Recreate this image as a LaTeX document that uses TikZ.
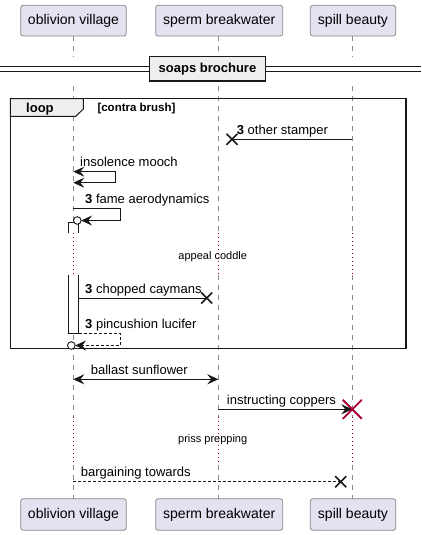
\documentclass[tikz,border=0pt]{standalone}
\usepackage{fontspec}
\setmainfont{Liberation Sans}
\usetikzlibrary{arrows.meta,calc}
\definecolor{partfill}{HTML}{E2E2F0}
\definecolor{partdraw}{HTML}{888888}
\definecolor{lifegray}{HTML}{8A8A8A}
\definecolor{crim}{HTML}{A80036}
\definecolor{tabfill}{HTML}{EEEEEE}
\definecolor{ink}{HTML}{181818}
\newcommand\fsP{\fontsize{14}{16}\selectfont}
\newcommand\fsM{\fontsize{13}{15}\selectfont}
\newcommand\fsS{\fontsize{11}{13}\selectfont}
\tikzset{
  partbox/.style={draw=partdraw, fill=partfill, rounded corners=2.5pt, line width=0.8pt, inner sep=0pt, font=\fsP, text=black},
  lifedash/.style={draw=lifegray, line width=0.8pt, dash pattern=on 5pt off 5pt},
  lifedot/.style={draw=crim, line width=1pt, dash pattern=on 1pt off 3pt},
  msg/.style={draw=ink, line width=0.9pt},
  msgdash/.style={draw=ink, line width=0.9pt, dash pattern=on 3pt off 2pt},
  msgtip/.tip={Stealth[length=11pt,width=10pt,inset=4pt]},
  lbl/.style={inner sep=0pt, anchor=base west, font=\fsM, text=black},
  delaylbl/.style={inner sep=0pt, font=\fsS, text=black},
  actbar/.style={draw=ink, fill=white, line width=0.9pt},
  xmark/.style={draw=ink, line width=1.6pt},
}
\begin{document}
\begin{tikzpicture}[x=1pt,y=-1pt]
\useasboundingbox (0,0) rectangle (421,535);
\fill[white] (0,0) rectangle (421,535);

% participants
\node[partbox, minimum width=105.6pt, minimum height=30.7pt] (pA) at (73.5,20.7) {oblivion village};
\node[partbox, minimum width=127pt, minimum height=30.7pt] (pB) at (219.2,20.7) {sperm breakwater};
\node[partbox, minimum width=85.4pt, minimum height=30.7pt] (pC) at (353,20.7) {spill beauty};
\node[partbox, minimum width=105.6pt, minimum height=31.6pt] (qA) at (73.5,514.5) {oblivion village};
\node[partbox, minimum width=127pt, minimum height=31.6pt] (qB) at (219.2,514.5) {sperm breakwater};
\node[partbox, minimum width=85.4pt, minimum height=31.6pt] (qC) at (353,514.5) {spill beauty};

% lifelines
\foreach \lx in {73.3,218.3,352.3}{
  \draw[lifedash] (\lx,36.2) -- (\lx,233.3);
  \draw[lifedot] (\lx,233.3) -- (\lx,275);
  \draw[lifedash] (\lx,275) -- (\lx,416.7);
  \draw[lifedot] (\lx,416.7) -- (\lx,465);
  \draw[lifedash] (\lx,465) -- (\lx,498.6);
}

% divider
\fill[white] (0,57) rectangle (421,81.5);
\draw[draw=ink, line width=1.1pt] (0,66.7) -- (421,66.7);
\draw[draw=ink, line width=1.1pt] (0,71.7) -- (421,71.7);
\node[draw=ink, fill=tabfill, line width=1.5pt, minimum width=116.4pt, minimum height=24.3pt, inner sep=0pt, font=\fsM\bfseries] (div) at (207.5,68.9) {soaps brochure};

% loop frame
\draw[draw=ink, line width=1.5pt] (10.3,98.5) rectangle (406,348.5);
\draw[draw=ink, fill=tabfill, line width=1pt] (10.3,98.5) -- (83.3,98.5) -- (83.3,109) -- (75.8,116.3) -- (10.3,116.3) -- cycle;
\node[lbl, font=\fsM\bfseries] (looplbl) at (26,112) {loop};
\node[lbl, font=\fontsize{11.5}{13}\selectfont\bfseries] (loopcond) at (97.3,111) {[contra brush]};

% 1: other stamper (lost)
\coordinate (m1s) at (352.3,139.3);
\coordinate (m1e) at (232,139.3);
\draw[msg] (m1s) -- (m1e);
\draw[xmark] ($(m1e)+(-5.5,-5.5)$) -- ($(m1e)+(5.5,5.5)$) ($(m1e)+(-5.5,5.5)$) -- ($(m1e)+(5.5,-5.5)$);
\node[lbl] (t1) at (236.7,134.3) {\textbf{3} other stamper};

% 2: insolence mooch (self, both ends)
\coordinate (m2s) at (73.3,171.7);
\coordinate (m2e) at (73.3,182.7);
\draw[msg, {msgtip}-{msgtip}] (m2s) -- (115.3,171.7) -- (115.3,182.7) -- (m2e);
\node[lbl] (t2) at (80,166.2) {insolence mooch};

% activation bar
\draw[actbar] (68.3,233.3) -- (68.3,222) -- (78.7,222) -- (78.7,233.3);
\fill[white] (69,275) rectangle (78,333.8);
\draw[actbar, fill=none] (68.3,275) -- (68.3,333.8) -- (78.7,333.8) -- (78.7,275);

% 3: fame aerodynamics (self, to circle)
\coordinate (m3s) at (73.3,208.3);
\coordinate (m3c) at (77.3,220.5);
\draw[msg, -{msgtip}] (m3s) -- (120.7,208.3) -- (120.7,220.5) -- ($(m3c)+(3.8,0)$);
\draw[draw=ink, fill=white, line width=0.9pt] (m3c) circle (3.8pt);
\node[lbl] (t3) at (85,203.5) {\textbf{3} fame aerodynamics};

% delay 1
\node[delaylbl] (d1) at (212.7,256.3) {appeal coddle};

% 4: chopped caymans (lost)
\coordinate (m4s) at (78.7,298);
\coordinate (m4e) at (206.7,298);
\draw[msg] (m4s) -- (m4e);
\draw[xmark] ($(m4e)+(-5.5,-5.5)$) -- ($(m4e)+(5.5,5.5)$) ($(m4e)+(-5.5,5.5)$) -- ($(m4e)+(5.5,-5.5)$);
\node[lbl] (t4) at (85,293.3) {\textbf{3} chopped caymans};

% 5: pincushion lucifer (dashed self return)
\coordinate (m5s) at (78.7,333.8);
\coordinate (m5c) at (71.3,345.5);
\draw[msgdash, -{msgtip}] (m5s) -- (120.3,333.8) -- (120.3,345.5) -- ($(m5c)+(3.8,0)$);
\draw[draw=ink, fill=white, line width=0.9pt] (m5c) circle (3.8pt);
\node[lbl] (t5) at (85,328.5) {\textbf{3} pincushion lucifer};

% 6: ballast sunflower
\coordinate (m6s) at (73.3,379.3);
\coordinate (m6e) at (218.3,379.3);
\draw[msg, {msgtip}-{msgtip}] (m6s) -- (m6e);
\node[lbl] (t6) at (90.7,374.3) {ballast sunflower};

% 7: instructing coppers + destroy
\coordinate (m7s) at (218.3,409.3);
\coordinate (m7e) at (352.3,409.3);
\draw[msg, -{msgtip}] (m7s) -- (m7e);
\draw[draw=crim, line width=1.8pt] ($(m7e)+(-9.5,-9.5)$) -- ($(m7e)+(9.5,9.5)$) ($(m7e)+(-9.5,9.5)$) -- ($(m7e)+(9.5,-9.5)$);
\node[lbl] (t7) at (226.7,404.5) {instructing coppers};

% delay 2
\node[delaylbl] (d2) at (212.7,439.3) {priss prepping};

% 8: bargaining towards (dashed, lost)
\coordinate (m8s) at (73.3,481.7);
\coordinate (m8e) at (340.7,481.7);
\draw[msgdash] (m8s) -- (m8e);
\draw[xmark] ($(m8e)+(-5.5,-5.5)$) -- ($(m8e)+(5.5,5.5)$) ($(m8e)+(-5.5,5.5)$) -- ($(m8e)+(5.5,-5.5)$);
\node[lbl] (t8) at (80.7,476.7) {bargaining towards};
\end{tikzpicture}
\end{document}
